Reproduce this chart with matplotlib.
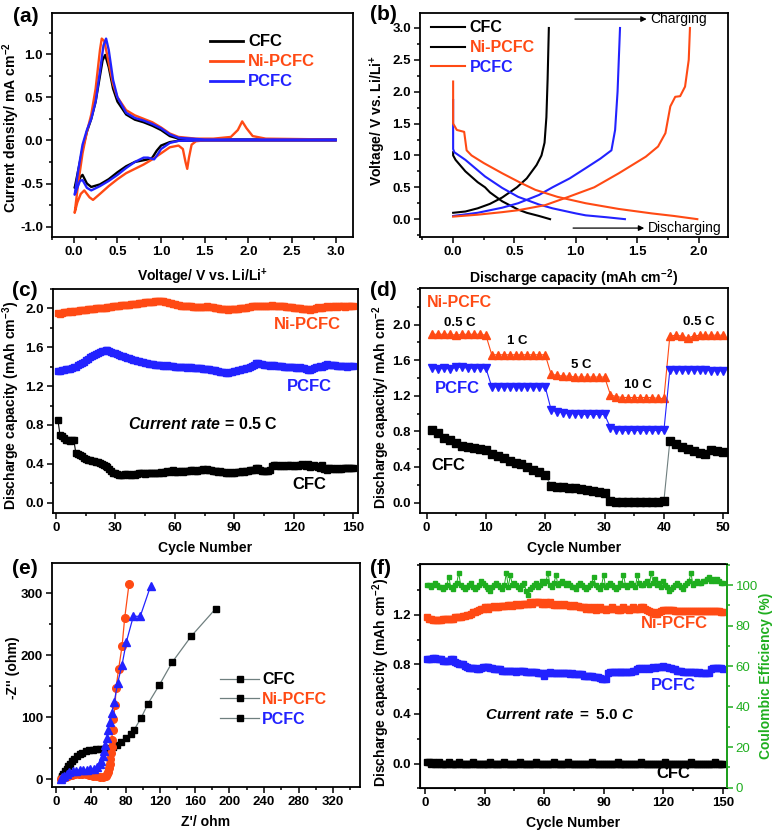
import numpy as np
import matplotlib.pyplot as plt
from matplotlib.lines import Line2D
from matplotlib.ticker import MultipleLocator

plt.rcParams['font.family'] = ['Liberation Sans', 'DejaVu Sans']
plt.rcParams['font.weight'] = 'bold'
plt.rcParams['axes.labelweight'] = 'bold'
plt.rcParams['axes.unicode_minus'] = False
plt.rcParams['mathtext.fontset'] = 'custom'
plt.rcParams['mathtext.rm'] = 'Liberation Sans:bold'
plt.rcParams['mathtext.bf'] = 'Liberation Sans:bold'
plt.rcParams['mathtext.it'] = 'Liberation Sans:bold:italic'

ORANGE = '#ff4a14'
BLUE = '#2222ff'
GREEN = '#1fae1f'
GRAY = '#6f7f7f'

# ---------------- (a) cyclic voltammetry ----------------
cv_cfc_v = [3.0, 1.5, 1.2, 1.1, 1.0, 0.95, 0.9, 0.85, 0.8, 0.7, 0.6, 0.5, 0.4, 0.3, 0.2, 0.15, 0.1, 0.08, 0.05, 0.02, 0.01,
            0.05, 0.1, 0.15, 0.2, 0.25, 0.3, 0.33, 0.36, 0.4, 0.45, 0.5, 0.6, 0.7, 0.8, 0.9, 1.0, 1.1, 1.2, 1.5, 3.0]
cv_cfc_i = [0.0, 0.0, -0.005, -0.02, -0.06, -0.12, -0.2, -0.22, -0.23, -0.25, -0.30, -0.37, -0.45, -0.51, -0.54, -0.5, -0.4, -0.42, -0.48, -0.53, -0.55,
            -0.35, -0.1, 0.1, 0.25, 0.45, 0.75, 0.93, 0.99, 0.85, 0.6, 0.45, 0.30, 0.24, 0.21, 0.17, 0.12, 0.05, 0.02, 0.01, 0.01]
cv_ni_v = [3.0, 1.5, 1.4, 1.35, 1.32, 1.3, 1.28, 1.25, 1.2, 1.1, 1.0, 0.9, 0.8, 0.7, 0.6, 0.5, 0.4, 0.3, 0.22, 0.18, 0.12, 0.08, 0.04, 0.01,
           0.05, 0.1, 0.15, 0.2, 0.25, 0.3, 0.32, 0.35, 0.4, 0.45, 0.5, 0.6, 0.7, 0.8, 0.9, 1.0, 1.1, 1.2, 1.4, 1.6, 1.8, 1.88, 1.93, 1.98, 2.05, 2.2, 3.0]
cv_ni_i = [0.0, 0.0, -0.01, -0.05, -0.2, -0.33, -0.25, -0.1, -0.06, -0.08, -0.15, -0.22, -0.28, -0.33, -0.38, -0.45, -0.53, -0.62, -0.69, -0.66, -0.58, -0.62, -0.72, -0.84,
           -0.5, -0.15, 0.1, 0.3, 0.6, 1.05, 1.18, 1.15, 0.9, 0.65, 0.5, 0.35, 0.29, 0.25, 0.21, 0.15, 0.08, 0.04, 0.02, 0.02, 0.04, 0.12, 0.22, 0.14, 0.05, 0.02, 0.01]
cv_pc_v = [3.0, 1.5, 1.2, 1.1, 1.0, 0.95, 0.92, 0.85, 0.8, 0.7, 0.6, 0.5, 0.4, 0.3, 0.2, 0.15, 0.1, 0.07, 0.04, 0.01,
           0.05, 0.1, 0.15, 0.2, 0.25, 0.3, 0.34, 0.37, 0.4, 0.45, 0.5, 0.6, 0.7, 0.8, 0.9, 1.0, 1.1, 1.2, 1.5, 3.0]
cv_pc_i = [0.0, 0.0, -0.005, -0.03, -0.10, -0.18, -0.22, -0.2, -0.2, -0.25, -0.32, -0.40, -0.47, -0.53, -0.58, -0.55, -0.46, -0.47, -0.55, -0.63,
           -0.35, -0.05, 0.12, 0.25, 0.45, 0.8, 1.1, 1.18, 1.05, 0.7, 0.5, 0.32, 0.26, 0.23, 0.19, 0.14, 0.07, 0.03, 0.01, 0.01]

# ---------------- (b) charge / discharge ----------------
cfc_dis_q = [0.0, 0.0, 0.02, 0.1, 0.2, 0.26, 0.3, 0.4, 0.5, 0.53, 0.6, 0.7, 0.79]
cfc_dis_v = [1.05, 1.0, 0.93, 0.75, 0.58, 0.5, 0.42, 0.28, 0.18, 0.15, 0.10, 0.05, 0.0]
cfc_chg_q = [0.0, 0.1, 0.2, 0.3, 0.4, 0.52, 0.6, 0.68, 0.72, 0.745, 0.76, 0.77, 0.78]
cfc_chg_v = [0.1, 0.12, 0.17, 0.24, 0.34, 0.5, 0.64, 0.85, 1.0, 1.2, 1.6, 2.2, 3.0]
pc_dis_q = [0.0, 0.0, 0.01, 0.1, 0.26, 0.4, 0.53, 0.7, 0.81, 1.0, 1.08, 1.25, 1.40]
pc_dis_v = [1.87, 1.1, 1.05, 0.93, 0.67, 0.49, 0.35, 0.23, 0.17, 0.09, 0.06, 0.03, 0.0]
pc_chg_q = [0.0, 0.2, 0.4, 0.53, 0.7, 0.81, 0.95, 1.08, 1.2, 1.29, 1.32, 1.34, 1.36]
pc_chg_v = [0.05, 0.1, 0.18, 0.25, 0.38, 0.5, 0.64, 0.8, 0.95, 1.08, 1.4, 2.0, 3.0]
ni_dis_q = [0.0, 0.0, 0.03, 0.09, 0.11, 0.15, 0.25, 0.40, 0.55, 0.67, 0.85, 1.08, 1.35, 1.62, 1.8, 1.99]
ni_dis_v = [2.16, 1.5, 1.4, 1.37, 1.08, 1.0, 0.88, 0.72, 0.57, 0.46, 0.35, 0.25, 0.16, 0.09, 0.05, 0.0]
ni_chg_q = [0.0, 0.2, 0.4, 0.53, 0.75, 0.94, 1.15, 1.35, 1.57, 1.67, 1.73, 1.77, 1.81, 1.85, 1.89, 1.92, 1.93]
ni_chg_v = [0.04, 0.07, 0.11, 0.14, 0.22, 0.35, 0.5, 0.72, 0.98, 1.14, 1.35, 1.77, 1.92, 1.93, 2.08, 2.5, 3.0]

# ---------------- (c) cycling at 0.5 C ----------------
cycles150 = np.arange(1, 151)
c_ni = [1.95, 1.94, 1.95, 1.96, 1.96, 1.96, 1.97, 1.96, 1.97, 1.97,
        1.97, 1.98, 1.98, 1.98, 1.98, 1.99, 1.99, 1.99, 1.99, 2.00,
        2.00, 2.00, 2.00, 2.00, 2.00, 2.01, 2.01, 2.01, 2.02, 2.02,
        2.03, 2.03, 2.04, 2.04, 2.04, 2.04, 2.04, 2.05, 2.05, 2.05,
        2.05, 2.06, 2.06, 2.06, 2.07, 2.07, 2.07, 2.07, 2.07, 2.08,
        2.08, 2.08, 2.08, 2.08, 2.07, 2.07, 2.06, 2.06, 2.05, 2.05,
        2.04, 2.04, 2.03, 2.03, 2.02, 2.02, 2.02, 2.02, 2.01, 2.01,
        2.01, 2.01, 2.01, 2.01, 2.01, 2.02, 2.01, 2.01, 2.01, 2.00,
        2.00, 2.00, 1.99, 1.99, 1.99, 1.99, 1.98, 1.99, 1.99, 1.99,
        1.99, 1.99, 2.00, 2.00, 2.00, 2.00, 2.01, 2.01, 2.02, 2.02,
        2.02, 2.03, 2.03, 2.03, 2.02, 2.03, 2.03, 2.03, 2.04, 2.03,
        2.03, 2.03, 2.02, 2.02, 2.02, 2.01, 2.01, 2.01, 2.01, 2.00,
        2.00, 2.00, 2.00, 1.99, 1.99, 1.99, 1.99, 1.98, 1.99, 1.99,
        2.00, 2.01, 2.00, 2.00, 2.01, 2.01, 2.02, 2.01, 2.01, 2.02,
        2.02, 2.01, 2.02, 2.02, 2.02, 2.01, 2.02, 2.02, 2.02, 2.02]
c_pc = [1.36, 1.36, 1.37, 1.37, 1.38, 1.38, 1.38, 1.39, 1.40, 1.40,
        1.42, 1.43, 1.44, 1.45, 1.47, 1.48, 1.50, 1.51, 1.52, 1.53,
        1.54, 1.55, 1.56, 1.56, 1.57, 1.57, 1.56, 1.55, 1.54, 1.54,
        1.53, 1.52, 1.51, 1.51, 1.50, 1.49, 1.49, 1.48, 1.47, 1.47,
        1.46, 1.46, 1.45, 1.45, 1.44, 1.44, 1.43, 1.43, 1.43, 1.42,
        1.42, 1.42, 1.42, 1.41, 1.41, 1.42, 1.41, 1.41, 1.41, 1.40,
        1.40, 1.40, 1.40, 1.40, 1.40, 1.39, 1.40, 1.40, 1.39, 1.39,
        1.39, 1.39, 1.39, 1.38, 1.38, 1.38, 1.38, 1.37, 1.37, 1.37,
        1.36, 1.36, 1.35, 1.35, 1.35, 1.34, 1.34, 1.35, 1.35, 1.36,
        1.36, 1.37, 1.37, 1.38, 1.38, 1.39, 1.39, 1.40, 1.41, 1.42,
        1.44, 1.44, 1.43, 1.43, 1.42, 1.42, 1.42, 1.41, 1.42, 1.42,
        1.41, 1.41, 1.41, 1.41, 1.40, 1.40, 1.40, 1.40, 1.40, 1.40,
        1.39, 1.39, 1.40, 1.39, 1.39, 1.38, 1.37, 1.37, 1.38, 1.39,
        1.40, 1.40, 1.41, 1.40, 1.41, 1.42, 1.43, 1.42, 1.42, 1.42,
        1.42, 1.41, 1.41, 1.41, 1.41, 1.41, 1.40, 1.41, 1.41, 1.41]
c_cfc = [0.85, 0.70, 0.69, 0.67, 0.65, 0.64, 0.63, 0.64, 0.65, 0.51,
         0.50, 0.49, 0.48, 0.46, 0.45, 0.44, 0.44, 0.43, 0.43, 0.42,
         0.42, 0.41, 0.40, 0.39, 0.38, 0.37, 0.35, 0.33, 0.31, 0.30,
         0.29, 0.28, 0.28, 0.28, 0.29, 0.29, 0.28, 0.28, 0.29, 0.28,
         0.29, 0.30, 0.30, 0.30, 0.29, 0.30, 0.30, 0.31, 0.31, 0.31,
         0.30, 0.31, 0.32, 0.31, 0.32, 0.33, 0.32, 0.33, 0.34, 0.32,
         0.32, 0.33, 0.33, 0.32, 0.33, 0.33, 0.33, 0.34, 0.34, 0.33,
         0.33, 0.34, 0.34, 0.35, 0.34, 0.35, 0.34, 0.34, 0.33, 0.33,
         0.33, 0.32, 0.33, 0.32, 0.32, 0.31, 0.31, 0.32, 0.31, 0.31,
         0.32, 0.32, 0.32, 0.33, 0.32, 0.33, 0.33, 0.34, 0.34, 0.34,
         0.36, 0.36, 0.34, 0.33, 0.33, 0.33, 0.33, 0.34, 0.38, 0.39,
         0.39, 0.38, 0.38, 0.39, 0.38, 0.38, 0.39, 0.39, 0.38, 0.38,
         0.39, 0.38, 0.39, 0.40, 0.39, 0.38, 0.40, 0.37, 0.38, 0.39,
         0.38, 0.37, 0.36, 0.39, 0.35, 0.36, 0.34, 0.36, 0.36, 0.35,
         0.35, 0.36, 0.35, 0.35, 0.36, 0.36, 0.36, 0.36, 0.36, 0.36]

# ---------------- (d) rate capability ----------------
cycles50 = np.arange(1, 51)
d_ni = [1.89, 1.89, 1.89, 1.89, 1.88, 1.89, 1.89, 1.89, 1.89, 1.88,
        1.66, 1.66, 1.66, 1.66, 1.66, 1.66, 1.66, 1.66, 1.66, 1.66,
        1.44, 1.43, 1.42, 1.42, 1.41, 1.41, 1.41, 1.41, 1.41, 1.41,
        1.21, 1.19, 1.18, 1.18, 1.18, 1.18, 1.18, 1.18, 1.17, 1.17,
        1.87, 1.88, 1.87, 1.85, 1.87, 1.88, 1.88, 1.88, 1.88, 1.88]
d_pc = [1.51, 1.50, 1.51, 1.50, 1.52, 1.52, 1.51, 1.51, 1.51, 1.51,
        1.30, 1.30, 1.30, 1.30, 1.30, 1.30, 1.30, 1.30, 1.30, 1.30,
        1.04, 1.02, 1.01, 1.00, 1.00, 0.99, 0.99, 0.99, 0.99, 0.99,
        0.84, 0.82, 0.81, 0.81, 0.81, 0.81, 0.81, 0.81, 0.81, 0.81,
        1.49, 1.49, 1.49, 1.49, 1.49, 1.49, 1.49, 1.48, 1.48, 1.48]
d_cfc = [0.82, 0.78, 0.73, 0.70, 0.67, 0.64, 0.62, 0.61, 0.60, 0.59,
         0.55, 0.52, 0.50, 0.47, 0.45, 0.43, 0.40, 0.37, 0.34, 0.31,
         0.19, 0.18, 0.17, 0.16, 0.16, 0.15, 0.14, 0.13, 0.12, 0.11,
         0.02, 0.01, 0.01, 0.01, 0.01, 0.01, 0.01, 0.01, 0.01, 0.02,
         0.69, 0.66, 0.63, 0.60, 0.58, 0.56, 0.55, 0.59, 0.58, 0.57]
rate_labels = ['0.5 C', '1 C', '5 C', '10 C', '0.5 C']
rate_x = [5.6, 15.3, 26.0, 35.7, 45.8]
rate_y = [2.02, 1.81, 1.54, 1.32, 2.03]

# ---------------- (e) impedance ----------------
e_cfc_re = [5, 6, 7, 8, 10, 12, 14, 16, 18, 21, 24, 27, 30, 34, 38, 42, 46, 50, 54, 58, 62, 66, 70, 75, 80, 86, 90, 98, 106, 119, 134, 156, 184]
e_cfc_im = [0, 3, 6, 9, 13, 17, 21, 25, 29, 33, 37, 40, 43, 45, 47, 48, 49, 49, 49, 49, 50, 52, 55, 60, 66, 73, 80, 99, 122, 152, 189, 231, 275]
e_ni_re = [5, 8, 11, 14, 18, 22, 26, 30, 34, 38, 42, 46, 50, 54, 57, 59, 60, 61, 62, 62, 63, 64, 64, 65, 66, 68, 69, 72, 76, 79, 84]
e_ni_im = [0, 2, 4, 6, 7, 8, 8, 8, 8, 7, 6, 5, 4, 4, 5, 8, 12, 18, 25, 33, 42, 52, 63, 80, 97, 120, 147, 178, 215, 260, 315]
e_pc_re = [5, 7, 9, 12, 15, 19, 23, 27, 31, 35, 39, 43, 47, 50, 52, 54, 55, 56, 58, 60, 62, 64, 67, 71, 76, 81, 89, 97, 109]
e_pc_im = [0, 3, 6, 9, 11, 13, 14, 15, 15, 15, 16, 17, 19, 24, 30, 37, 45, 55, 66, 80, 93, 107, 125, 156, 185, 222, 263, 263, 312]

# ---------------- (f) cycling at 5.0 C ----------------
f_ni = [1.18, 1.17, 1.17, 1.16, 1.16, 1.16, 1.16, 1.16, 1.17, 1.17,
        1.17, 1.17, 1.17, 1.17, 1.18, 1.18, 1.18, 1.18, 1.19, 1.19,
        1.20, 1.20, 1.21, 1.22, 1.22, 1.23, 1.24, 1.25, 1.25, 1.26,
        1.26, 1.25, 1.26, 1.26, 1.27, 1.26, 1.26, 1.27, 1.27, 1.27,
        1.27, 1.28, 1.28, 1.27, 1.28, 1.29, 1.28, 1.28, 1.29, 1.29,
        1.29, 1.29, 1.30, 1.29, 1.30, 1.30, 1.30, 1.30, 1.29, 1.29,
        1.30, 1.29, 1.30, 1.29, 1.28, 1.28, 1.29, 1.28, 1.28, 1.29,
        1.28, 1.28, 1.27, 1.27, 1.28, 1.27, 1.27, 1.26, 1.26, 1.26,
        1.25, 1.26, 1.25, 1.25, 1.26, 1.24, 1.25, 1.26, 1.25, 1.25,
        1.24, 1.25, 1.25, 1.26, 1.25, 1.25, 1.24, 1.24, 1.25, 1.26,
        1.25, 1.25, 1.24, 1.25, 1.26, 1.25, 1.25, 1.25, 1.26, 1.26,
        1.25, 1.24, 1.23, 1.22, 1.22, 1.21, 1.21, 1.22, 1.23, 1.24,
        1.24, 1.24, 1.24, 1.24, 1.24, 1.23, 1.23, 1.23, 1.23, 1.23,
        1.23, 1.23, 1.23, 1.23, 1.23, 1.23, 1.23, 1.23, 1.23, 1.23,
        1.23, 1.23, 1.23, 1.23, 1.23, 1.23, 1.23, 1.23, 1.22, 1.22]
f_pc = [0.84, 0.84, 0.84, 0.85, 0.85, 0.84, 0.84, 0.84, 0.83, 0.83,
        0.83, 0.83, 0.84, 0.84, 0.82, 0.81, 0.80, 0.80, 0.80, 0.79,
        0.78, 0.77, 0.77, 0.77, 0.77, 0.76, 0.76, 0.77, 0.78, 0.78,
        0.78, 0.78, 0.77, 0.77, 0.76, 0.76, 0.76, 0.76, 0.75, 0.75,
        0.75, 0.75, 0.75, 0.75, 0.75, 0.74, 0.75, 0.75, 0.75, 0.75,
        0.74, 0.74, 0.74, 0.74, 0.74, 0.74, 0.73, 0.73, 0.73, 0.71,
        0.73, 0.73, 0.74, 0.73, 0.73, 0.73, 0.73, 0.73, 0.73, 0.73,
        0.73, 0.73, 0.72, 0.73, 0.72, 0.72, 0.72, 0.72, 0.72, 0.71,
        0.71, 0.71, 0.71, 0.71, 0.70, 0.70, 0.70, 0.69, 0.68, 0.68,
        0.68, 0.73, 0.74, 0.74, 0.74, 0.74, 0.74, 0.74, 0.74, 0.74,
        0.74, 0.74, 0.74, 0.74, 0.75, 0.75, 0.76, 0.77, 0.77, 0.76,
        0.77, 0.77, 0.76, 0.77, 0.78, 0.77, 0.78, 0.78, 0.78, 0.79,
        0.78, 0.78, 0.77, 0.77, 0.76, 0.76, 0.75, 0.75, 0.75, 0.74,
        0.74, 0.74, 0.74, 0.74, 0.74, 0.74, 0.73, 0.74, 0.73, 0.73,
        0.73, 0.73, 0.73, 0.76, 0.77, 0.77, 0.77, 0.77, 0.77, 0.76]
f_cfc = [0.01, 0.01, 0.00, 0.01, 0.00, 0.00, 0.01, 0.00, 0.00, 0.00,
         0.00, 0.01, 0.00, 0.00, 0.00, 0.00, 0.01, 0.00, 0.00, 0.00,
         0.00, 0.00, 0.00, 0.01, 0.00, 0.00, 0.00, 0.00, 0.00, 0.00,
         0.00, 0.00, 0.01, 0.00, 0.00, 0.00, 0.00, 0.00, 0.00, 0.01,
         0.00, 0.00, 0.00, 0.00, 0.00, 0.00, 0.00, 0.01, 0.00, 0.00,
         0.00, 0.00, 0.00, 0.00, 0.00, 0.01, 0.00, 0.00, 0.00, 0.00,
         0.00, 0.00, 0.00, 0.00, 0.01, 0.00, 0.00, 0.00, 0.00, 0.00,
         0.00, 0.01, 0.00, 0.00, 0.00, 0.00, 0.00, 0.00, 0.00, 0.00,
         0.00, 0.00, 0.00, 0.01, 0.00, 0.00, 0.00, 0.00, 0.00, 0.00,
         0.00, 0.00, 0.00, 0.00, 0.00, 0.00, 0.01, 0.00, 0.00, 0.00,
         0.00, 0.00, 0.00, 0.00, 0.00, 0.00, 0.00, 0.00, 0.01, 0.00,
         0.00, 0.00, 0.00, 0.00, 0.00, 0.00, 0.00, 0.00, 0.00, 0.00,
         0.01, 0.00, 0.00, 0.00, 0.00, 0.00, 0.00, 0.00, 0.00, 0.00,
         0.00, 0.00, 0.00, 0.01, 0.00, 0.00, 0.00, 0.00, 0.00, 0.00,
         0.00, 0.00, 0.00, 0.00, 0.00, 0.01, 0.00, 0.00, 0.00, 0.00]
f_ce = [100, 100, 99, 100, 101, 100, 99, 99, 98, 99,
        100, 104, 99, 98, 100, 101, 106, 100, 99, 98,
        99, 100, 101, 99, 98, 99, 100, 102, 101, 100,
        99, 98, 97, 99, 100, 101, 100, 99, 98, 100,
        106, 99, 105, 100, 101, 100, 99, 98, 100, 101,
        97, 95, 98, 99, 100, 101, 99, 100, 102, 101,
        102, 106, 100, 99, 101, 105, 100, 101, 102, 101,
        100, 101, 100, 99, 99, 98, 100, 101, 100, 99,
        98, 99, 100, 101, 104, 100, 99, 98, 100, 105,
        99, 100, 101, 100, 99, 98, 99, 101, 100, 105,
        100, 99, 100, 101, 100, 99, 105, 101, 100, 100,
        101, 102, 100, 106, 101, 103, 100, 101, 99, 102,
        100, 99, 97, 98, 99, 100, 101, 100, 99, 98,
        100, 101, 102, 106, 100, 101, 102, 101, 101, 102,
        102, 103, 104, 102, 103, 102, 103, 102, 101, 101]

W, H = 774, 835
fig = plt.figure(figsize=(W / 100, H / 100), dpi=100)
LBL = 10.1   # axis label size
TCK = 9.5    # tick label size


def box(x0, x1, y0, y1):
    return [x0 / W, 1 - y1 / H, (x1 - x0) / W, (y1 - y0) / H]


def style(ax, xmin, ymin):
    ax.xaxis.set_minor_locator(MultipleLocator(xmin))
    ax.yaxis.set_minor_locator(MultipleLocator(ymin))
    ax.tick_params(which='both', direction='out', top=False, right=False, width=1.1, labelsize=TCK, pad=2.5)
    ax.tick_params(which='major', length=4)
    ax.tick_params(which='minor', length=2.5)
    for s in ax.spines.values():
        s.set_linewidth(1.3)
    for lab in ax.get_xticklabels() + ax.get_yticklabels():
        lab.set_fontweight('bold')


def colored_legend(ax, handles, names, colors, size=12, **kw):
    leg = ax.legend(handles, names, frameon=False, prop={'weight': 'bold', 'size': size}, **kw)
    for t, c in zip(leg.get_texts(), colors):
        t.set_color(c)
    return leg


# (a)
ax = fig.add_axes(box(52, 353, 12.7, 237))
ax.plot(cv_cfc_v, cv_cfc_i, color='black', lw=1.7)
ax.plot(cv_ni_v, cv_ni_i, color=ORANGE, lw=1.7)
ax.plot(cv_pc_v, cv_pc_i, color=BLUE, lw=1.7)
ax.set_xlim(-0.25, 3.2)
ax.set_ylim(-1.12, 1.48)
ax.set_xticks([0.0, 0.5, 1.0, 1.5, 2.0, 2.5, 3.0])
ax.set_yticks([-1.0, -0.5, 0.0, 0.5, 1.0])
style(ax, 0.25, 0.25)
ax.set_xlabel('Voltage/ V vs. Li/Li$^{+}$', fontsize=LBL, labelpad=6)
ax.set_ylabel('Current density/ mA cm$^{-2}$', fontsize=LBL)
ax.yaxis.set_label_coords(-0.1, 0.49)
colored_legend(ax, [Line2D([], [], color=c, lw=2) for c in ['black', ORANGE, BLUE]],
               ['CFC', 'Ni-PCFC', 'PCFC'], ['black', ORANGE, BLUE],
               loc='upper left', bbox_to_anchor=(0.475, 0.97), handlelength=2.0, labelspacing=0.3, handletextpad=0.3)
fig.text(13 / W, 1 - 17 / H, '(a)', fontsize=15, fontweight='bold', va='center')

# (b)
ax = fig.add_axes(box(420, 728, 12.7, 237))
ax.plot(cfc_dis_q, cfc_dis_v, color='black', lw=1.5)
ax.plot(cfc_chg_q, cfc_chg_v, color='black', lw=1.5)
ax.plot(pc_dis_q, pc_dis_v, color=BLUE, lw=1.5)
ax.plot(pc_chg_q, pc_chg_v, color=BLUE, lw=1.5)
ax.plot(ni_dis_q, ni_dis_v, color=ORANGE, lw=1.5)
ax.plot(ni_chg_q, ni_chg_v, color=ORANGE, lw=1.5)
ax.set_xlim(-0.27, 2.24)
ax.set_ylim(-0.28, 3.24)
ax.set_xticks([0.0, 0.5, 1.0, 1.5, 2.0])
ax.set_yticks([0.0, 0.5, 1.0, 1.5, 2.0, 2.5, 3.0])
style(ax, 0.25, 0.25)
ax.set_xlabel('Discharge capacity (mAh cm$^{-2}$)', fontsize=LBL, labelpad=7)
ax.set_ylabel('Voltage/ V vs. Li/Li$^{+}$', fontsize=LBL)
ax.yaxis.set_label_coords(-0.105, 0.52)
colored_legend(ax, [Line2D([], [], color=c, lw=1.5) for c in ['black', 'black', ORANGE]],
               ['CFC', 'Ni-PCFC', 'PCFC'], ['black', ORANGE, BLUE], size=11.5,
               loc='upper left', bbox_to_anchor=(-0.01, 1.03), handlelength=2.1, labelspacing=0.3, handletextpad=0.3)
ax.annotate('', xy=(1.60, 3.14), xytext=(0.97, 3.14),
            arrowprops=dict(arrowstyle='-|>', color='black', lw=0.9, mutation_scale=8))
ax.text(1.61, 3.14, 'Charging', fontsize=10, fontweight='normal', va='center')
ax.annotate('', xy=(1.58, -0.14), xytext=(0.955, -0.14),
            arrowprops=dict(arrowstyle='-|>', color='black', lw=0.9, mutation_scale=8))
ax.text(1.59, -0.14, 'Discharging', fontsize=10, fontweight='normal', va='center')
fig.text(370 / W, 1 - 15 / H, '(b)', fontsize=15, fontweight='bold', va='center')

# (c)
ax = fig.add_axes(box(53, 358, 289, 513.3))
mk = dict(marker='s', markersize=4.5, lw=0.8)
ax.plot(cycles150, c_cfc, color='black', **mk)
ax.plot(cycles150, c_ni, color=ORANGE, **mk)
ax.plot(cycles150, c_pc, color=BLUE, **mk)
ax.set_xlim(-1.5, 152.4)
ax.set_ylim(-0.11, 2.2)
ax.set_xticks([0, 30, 60, 90, 120, 150])
ax.set_yticks([0.0, 0.4, 0.8, 1.2, 1.6, 2.0])
style(ax, 15, 0.2)
ax.set_xlabel('Cycle Number', fontsize=LBL, labelpad=5)
ax.set_ylabel('Discharge capacity (mAh cm$^{-3}$)', fontsize=LBL)
ax.yaxis.set_label_coords(-0.1, 0.48)
ax.text(126.8, 1.83, 'Ni-PCFC', color=ORANGE, fontsize=12, ha='center', va='center', fontweight='bold')
ax.text(128, 1.20, 'PCFC', color=BLUE, fontsize=12, ha='center', va='center', fontweight='bold')
ax.text(128, 0.19, 'CFC', color='black', fontsize=12, ha='center', va='center', fontweight='bold')
ax.text(74.3, 0.81, '$\\mathit{Current\\ rate}$ = 0.5 C', fontsize=11.5, ha='center', va='center', fontweight='bold')
fig.text(12 / W, 1 - 291 / H, '(c)', fontsize=15, fontweight='bold', va='center')

# (d)
ax = fig.add_axes(box(420, 728, 288, 513.3))
ax.plot(cycles50, d_cfc, color=GRAY, marker='s', markersize=5.5, mfc='black', mec='black', lw=0.8)
ax.plot(cycles50, d_ni, color=ORANGE, marker='^', markersize=6, lw=0.8)
ax.plot(cycles50, d_pc, color=BLUE, marker='v', markersize=6, lw=0.8)
ax.set_xlim(-1.1, 50.8)
ax.set_ylim(-0.12, 2.41)
ax.set_xticks([0, 10, 20, 30, 40, 50])
ax.set_yticks([0.0, 0.4, 0.8, 1.2, 1.6, 2.0])
style(ax, 5, 0.2)
ax.set_xlabel('Cycle Number', fontsize=LBL, labelpad=5)
ax.set_ylabel('Discharge capacity/ mAh cm$^{-2}$', fontsize=LBL)
ax.yaxis.set_label_coords(-0.09, 0.47)
for lab, x, y in zip(rate_labels, rate_x, rate_y):
    ax.text(x, y, lab, fontsize=9.5, ha='center', va='center', fontweight='bold')
ax.text(0.0, 2.25, 'Ni-PCFC', color=ORANGE, fontsize=11.5, va='center', fontweight='bold')
ax.text(1.4, 1.28, 'PCFC', color=BLUE, fontsize=12, va='center', fontweight='bold')
ax.text(0.85, 0.42, 'CFC', color='black', fontsize=12, va='center', fontweight='bold')
fig.text(370 / W, 1 - 291 / H, '(d)', fontsize=15, fontweight='bold', va='center')

# (e)
ax = fig.add_axes(box(52, 360, 563, 786.7))
ax.plot(e_cfc_re, e_cfc_im, color=GRAY, marker='s', markersize=4.5, mfc='black', mec='black', lw=0.9)
ax.plot(e_ni_re, e_ni_im, color=ORANGE, marker='o', markersize=5.5, lw=0.9)
ax.plot(e_pc_re, e_pc_im, color=BLUE, marker='^', markersize=6, lw=0.9)
ax.set_xlim(-5, 351)
ax.set_ylim(-12, 349)
ax.set_xticks(np.arange(0, 321, 40))
ax.set_yticks([0, 100, 200, 300])
style(ax, 20, 50)
ax.set_xlabel("Z'/ ohm", fontsize=LBL, labelpad=5)
ax.set_ylabel("-Z'' (ohm)", fontsize=LBL)
ax.yaxis.set_label_coords(-0.105, 0.53)
leg_h = [Line2D([], [], color=GRAY, marker='s', markersize=4.5, mfc='black', mec='black', lw=0.9) for _ in range(3)]
colored_legend(ax, leg_h, ['CFC', 'Ni-PCFC', 'PCFC'], ['black', ORANGE, BLUE], size=11.5,
               loc='center left', bbox_to_anchor=(0.5, 0.39), handlelength=2.4, labelspacing=0.3, handletextpad=0.2)
fig.text(12 / W, 1 - 568 / H, '(e)', fontsize=15, fontweight='bold', va='center')

# (f)
ax = fig.add_axes(box(420, 726.7, 564, 788.3))
ax2 = ax.twinx()
ax.plot(cycles150, f_cfc, color='black', **mk)
ax.plot(cycles150, f_ni, color=ORANGE, **mk)
ax.plot(cycles150, f_pc, color=BLUE, **mk)
ax2.plot(cycles150, f_ce, color=GREEN, marker='s', markersize=3.2, lw=0.7)
ax.set_xlim(-2.5, 152)
ax.set_ylim(-0.2, 1.61)
ax2.set_ylim(-0.3, 110.4)
ax.set_xticks([0, 30, 60, 90, 120, 150])
ax.set_yticks([0.0, 0.4, 0.8, 1.2])
style(ax, 15, 0.2)
ax2.yaxis.set_minor_locator(MultipleLocator(10))
ax2.set_yticks([0, 20, 40, 60, 80, 100])
ax2.tick_params(which='both', direction='out', width=1.1, colors=GREEN, labelsize=TCK, pad=2.5)
ax2.tick_params(which='major', length=4)
ax2.tick_params(which='minor', length=2.5)
ax2.spines['right'].set_color(GREEN)
ax2.spines['right'].set_linewidth(1.3)
ax2.set_ylabel('Coulombic Efficiency (%)', fontsize=10, color=GREEN, labelpad=1)
for lab in ax2.get_yticklabels():
    lab.set_fontweight('normal')
ax.set_xlabel('Cycle Number', fontsize=LBL, labelpad=5)
ax.set_ylabel('Discharge capacity (mAh cm$^{-2}$)', fontsize=LBL)
ax.yaxis.set_label_coords(-0.09, 0.47)
ax.text(125.7, 1.13, 'Ni-PCFC', color=ORANGE, fontsize=12, ha='center', va='center', fontweight='bold')
ax.text(124.9, 0.63, 'PCFC', color=BLUE, fontsize=12, ha='center', va='center', fontweight='bold')
ax.text(125, -0.08, 'CFC', color='black', fontsize=12, ha='center', va='center', fontweight='bold')
ax.text(67.9, 0.39, '$\\mathit{Current\\ rate\\ =\\ 5.0\\ C}$', fontsize=11, ha='center', va='center')
fig.text(370 / W, 1 - 568 / H, '(f)', fontsize=15, fontweight='bold', va='center')

fig.savefig('out.png', dpi=100)
